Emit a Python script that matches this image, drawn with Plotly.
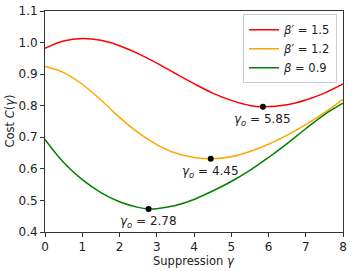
import plotly.graph_objects as go

g_red = [0, 0.5, 1, 1.5, 2, 2.5, 3, 3.5, 4, 4.5, 5, 5.5, 5.85, 6.5, 7, 7.5, 8]
c_red = [0.982, 1.005, 1.013, 1.007, 0.99, 0.965, 0.935, 0.902, 0.870, 0.840, 0.817, 0.801, 0.797, 0.803, 0.818, 0.840, 0.869]

g_orange = [0, 0.5, 1, 1.5, 2, 2.5, 3, 3.5, 4, 4.45, 5, 5.5, 6, 6.5, 7, 7.5, 8]
c_orange = [0.924, 0.905, 0.868, 0.818, 0.763, 0.715, 0.677, 0.650, 0.636, 0.632, 0.638, 0.655, 0.678, 0.707, 0.740, 0.778, 0.820]

g_green = [0, 0.5, 1, 1.5, 2, 2.5, 2.78, 3, 3.5, 4, 4.5, 5, 5.5, 6, 6.5, 7, 7.5, 8]
c_green = [0.693, 0.620, 0.566, 0.525, 0.496, 0.478, 0.473, 0.474, 0.484, 0.503, 0.530, 0.560, 0.595, 0.636, 0.680, 0.727, 0.772, 0.808]

opt_g = [5.85, 4.45, 2.78]
opt_c = [0.797, 0.632, 0.473]
opt_labels = ["5.85", "4.45", "2.78"]

names = ["<i>β′</i> = 1.5", "<i>β′</i> = 1.2", "<i>β</i> = 0.9"]
colors = ["#ff0000", "#ffa500", "#008000"]

fig = go.Figure()
for g, c, n, col in zip([g_red, g_orange, g_green], [c_red, c_orange, c_green], names, colors):
    fig.add_trace(go.Scatter(x=g, y=c, mode="lines", name=n,
                             line=dict(color=col, width=1.5, shape="spline", smoothing=1.0)))

fig.add_trace(go.Scatter(x=opt_g, y=opt_c, mode="markers", showlegend=False,
                         marker=dict(color="black", size=6)))

for gx, cy, lab in zip(opt_g, opt_c, opt_labels):
    fig.add_annotation(x=gx, y=cy, text=f"<i>γ<sub>o</sub></i> = {lab}", showarrow=False,
                       yshift=-13, font=dict(size=12, color="#222"))

# axis titles
fig.add_annotation(xref="paper", yref="paper", x=0.5, y=0, yshift=-20, yanchor="top",
                   text="Suppression <i>γ</i>", showarrow=False, font=dict(size=11.5, color="#222"))
fig.add_annotation(xref="paper", yref="paper", x=0, y=0.5, xshift=-36, xanchor="center",
                   text="Cost <i>C</i>(<i>γ</i>)", textangle=-90, showarrow=False,
                   font=dict(size=11.5, color="#222"))

axis_common = dict(showline=True, linecolor="#333", linewidth=1, mirror=True,
                   ticks="outside", ticklen=4, tickcolor="#333", showgrid=False,
                   zeroline=False, tickfont=dict(size=12, color="#222"), automargin=False)

fig.update_layout(
    width=353, height=271,
    margin=dict(l=45, r=10, t=11, b=39),
    plot_bgcolor="white", paper_bgcolor="white",
    font=dict(family="DejaVu Sans", size=12, color="#222"),
    xaxis=dict(range=[0, 8], tickvals=[0, 1, 2, 3, 4, 5, 6, 7, 8], **axis_common),
    yaxis=dict(range=[0.4, 1.1], tickvals=[0.4, 0.5, 0.6, 0.7, 0.8, 0.9, 1.0, 1.1],
               ticktext=["0.4", "0.5", "0.6", "0.7", "0.8", "0.9", "1.0", "1.1"], **axis_common),
    legend=dict(x=0.98, y=0.985, xanchor="right", yanchor="top",
                bgcolor="white", bordercolor="#ccc", borderwidth=1,
                font=dict(size=11.5), tracegroupgap=0, itemwidth=30),
)

fig.write_html("out.html", config={"displayModeBar": False},
               post_script="document.body.style.margin='0';")
